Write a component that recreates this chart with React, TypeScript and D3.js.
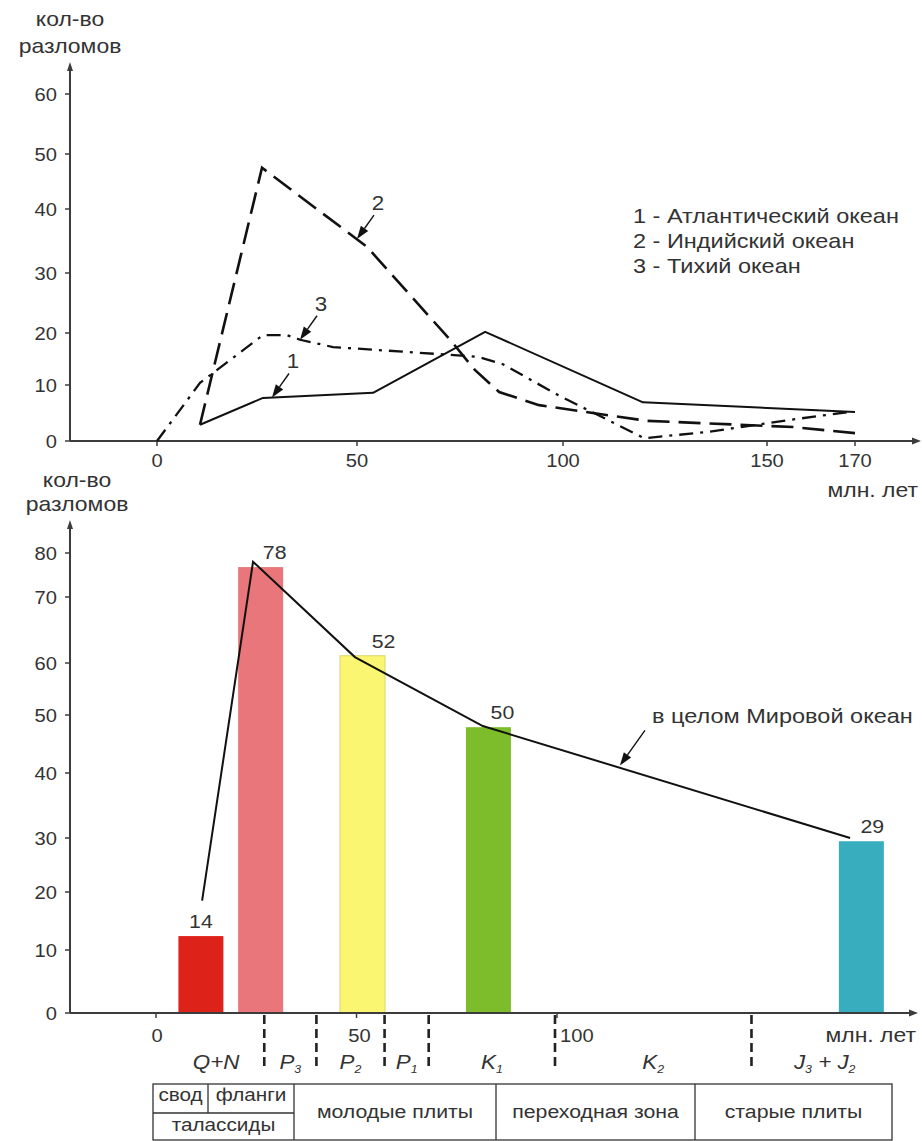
import React from 'react';
import * as d3 from 'd3';

const W = 922;
const H = 1141;

// ---------- Top chart data ----------
const topYTicks = [0, 10, 20, 30, 40, 50, 60];
const topXTicks = [0, 50, 100, 150, 170];
const legendItems = ['1 - Атлантический океан', '2 - Индийский океан', '3 - Тихий океан'];

const atlanticAge = [10.75, 26.5, 53.9, 81.1, 119.6, 170];
const atlanticCount = [2.9, 7.7, 8.6, 20.2, 6.9, 5.2];

const indianAge = [10.75, 26.25, 52.4, 72.6, 78.6, 84.5, 94.2, 120.6, 155.9, 170];
const indianCount = [2.9, 47.5, 34.1, 18.7, 12.9, 8.75, 6.4, 3.6, 2.5, 1.4];

const pacificAge = [0, 10.75, 26.5, 32.5, 35.75, 44, 72.6, 79.4, 85.4, 98.8, 119.9, 135.2, 155, 168.75];
const pacificCount = [0, 10.4, 19.6, 19.6, 18.7, 17.3, 15.8, 15.4, 14.0, 8.2, 0.5, 1.6, 3.75, 5.2];

// series number annotations: label, arrow tip (age, count)
const seriesNumLabels = ['1', '2', '3'];
const seriesNumAge = [28.75, 50, 35.75];
const seriesNumCount = [7.77, 35.3, 18.7];

// ---------- Bottom chart data ----------
const lowYTicks = [0, 10, 20, 30, 40, 50, 60, 70, 80];
const lowXTicks = [0, 50, 100];
const barAge = [11.2, 26.1, 51.5, 82.9, 175.9];
const barCount = [12.4, 76.8, 61.1, 47.9, 29.4];
const barLabels = ['14', '78', '52', '50', '29'];

const worldAge = [11.5, 24.2, 49.6, 81.5, 173.1];
const worldCount = [18.5, 78.0, 60.9, 48.1, 30.0];
const worldLabel = 'в целом Мировой океан';
const worldArrowAge = 115.7;
const worldArrowCount = 41.3;

const periodBounds = [27, 40, 57, 68, 99.5, 148.5];
const periodMain = ['Q+N', 'P', 'P', 'P', 'K', 'K', 'J'];
const periodSub = ['', '3', '2', '1', '1', '2', '3'];

const zoneTop = ['свод', 'фланги'];
const zoneBottom = 'талассиды';
const zoneMain = ['молодые плиты', 'переходная зона', 'старые плиты'];

// ---------- styling ----------
const barColors = ['#dc2219', '#e8767a', '#fbf672', '#7dbd2b', '#37adbe'];
const barStroke = ['none', 'none', '#dcd46a', 'none', 'none'];
const labelDx = [0, 14, 21, 14, 11];
const FONT = "'Liberation Sans', Arial, Helvetica, sans-serif";
const SX = 1.12;
const TXT = '#333';
const AX = '#3c3c3c';

function T(props: any) {
  const { x, y, size, anchor = 'start', italic = false, fill = TXT, children } = props;
  return (
    <text
      transform={`translate(${x},${y}) scale(${SX},1)`}
      fontSize={size}
      textAnchor={anchor}
      fontFamily={FONT}
      fontStyle={italic ? 'italic' : 'normal'}
      fill={fill}
    >
      {children}
    </text>
  );
}

function Arrow(props: any) {
  const { x1, y1, x2, y2 } = props;
  const ang = Math.atan2(y2 - y1, x2 - x1);
  const L = 13;
  const hw = 4.5;
  const bx = x2 - L * Math.cos(ang);
  const by = y2 - L * Math.sin(ang);
  const px = -Math.sin(ang) * hw;
  const py = Math.cos(ang) * hw;
  return (
    <g>
      <line x1={x1} y1={y1} x2={bx} y2={by} stroke="#111" strokeWidth={1.4} />
      <polygon points={`${x2},${y2} ${bx + px},${by + py} ${bx - px},${by - py}`} fill="#111" />
    </g>
  );
}

export default function App() {
  // top scales
  const tx = d3.scaleLinear().domain(topXTicks).range([157, 357, 563, 767, 855]);
  const ty = d3.scaleLinear().domain(topYTicks).range([441, 385, 333, 273, 209, 154, 94]);
  // bottom scales
  const lx = d3.scaleLinear().domain([0, 100]).range([156, 557]);
  const ly = d3.scaleLinear().domain(lowYTicks).range([1013, 950, 892, 838, 773, 715, 663, 597, 553]);

  const topLine = d3.line<[number, number]>().x((d) => tx(d[0])).y((d) => ty(d[1]));
  const lowLine = d3.line<[number, number]>().x((d) => lx(d[0])).y((d) => ly(d[1]));

  const zip = (a: number[], b: number[]) => a.map((v, i) => [v, b[i]] as [number, number]);

  const topAxisY = ty(0);
  const lowAxisY = ly(0);

  const periodEdges = [0, ...periodBounds, 185];

  return (
    <svg
      width={W}
      height={H}
      viewBox={`0 0 ${W} ${H}`}
      style={{ position: 'absolute', left: 0, top: 0, background: '#fff' }}
    >
      <rect x={0} y={0} width={W} height={H} fill="#fff" />

      {/* ============ TOP CHART ============ */}
      <T x={70} y={26} size={20.5} anchor="middle">кол-во</T>
      <T x={70} y={53} size={20.5} anchor="middle">разломов</T>

      {/* y axis */}
      <line x1={70} y1={topAxisY} x2={70} y2={68} stroke={AX} strokeWidth={2} />
      <polygon points="70,62 67,71 73,71" fill={AX} />
      {topYTicks.map((t) => (
        <g key={'ty' + t}>
          <line x1={65} x2={70} y1={ty(t)} y2={ty(t)} stroke={AX} strokeWidth={1.5} />
          <T x={57} y={ty(t) + 6.5} size={18} anchor="end">{t}</T>
        </g>
      ))}
      {/* x axis */}
      <line x1={70} y1={topAxisY} x2={914} y2={topAxisY} stroke={AX} strokeWidth={2} />
      <polygon points={`921,${topAxisY} 912,${topAxisY - 3.5} 912,${topAxisY + 3.5}`} fill={AX} />
      {topXTicks.map((t) => (
        <g key={'tx' + t}>
          <line x1={tx(t)} x2={tx(t)} y1={topAxisY} y2={topAxisY + 5} stroke={AX} strokeWidth={1.5} />
          <T x={tx(t)} y={467} size={18} anchor="middle">{t}</T>
        </g>
      ))}
      <T x={918} y={497} size={20.5} anchor="end">млн. лет</T>

      {/* series */}
      <path d={topLine(zip(atlanticAge, atlanticCount)) || ''} fill="none" stroke="#111" strokeWidth={2} strokeLinejoin="round" />
      <path d={topLine(zip(indianAge, indianCount)) || ''} fill="none" stroke="#111" strokeWidth={2.6} strokeDasharray="22,9" />
      <path d={topLine(zip(pacificAge, pacificCount)) || ''} fill="none" stroke="#111" strokeWidth={2.3} strokeDasharray="14,7,3,7" />

      {/* series number annotations */}
      {seriesNumLabels.map((lab, i) => {
        const px = tx(seriesNumAge[i]);
        const py = ty(seriesNumCount[i]);
        return (
          <g key={'sn' + i}>
            <Arrow x1={px + 17} y1={py - 24} x2={px} y2={py} />
            <T x={px + 21} y={py - 29} size={20} anchor="middle">{lab}</T>
          </g>
        );
      })}

      {/* legend */}
      {legendItems.map((s, i) => (
        <T key={'lg' + i} x={633} y={223 + i * 25} size={21}>{s}</T>
      ))}

      {/* ============ BOTTOM CHART ============ */}
      <T x={77} y={487} size={20.5} anchor="middle">кол-во</T>
      <T x={77} y={511} size={20.5} anchor="middle">разломов</T>

      <line x1={70} y1={lowAxisY} x2={70} y2={526} stroke={AX} strokeWidth={2} />
      <polygon points="70,520 67,529 73,529" fill={AX} />
      {lowYTicks.map((t) => (
        <g key={'ly' + t}>
          <line x1={65} x2={70} y1={ly(t)} y2={ly(t)} stroke={AX} strokeWidth={1.5} />
          <T x={57} y={ly(t) + 6.5} size={18} anchor="end">{t}</T>
        </g>
      ))}

      {/* bars */}
      {barAge.map((a, i) => (
        <rect
          key={'b' + i}
          x={lx(a) - 22.5}
          y={ly(barCount[i])}
          width={45}
          height={lowAxisY - ly(barCount[i])}
          fill={barColors[i]}
          stroke={barStroke[i]}
          strokeWidth={1}
        />
      ))}
      {barAge.map((a, i) => (
        <T key={'bl' + i} x={lx(a) + labelDx[i]} y={ly(barCount[i]) - 8} size={19} anchor="middle">
          {barLabels[i]}
        </T>
      ))}

      {/* x axis */}
      <line x1={70} y1={lowAxisY} x2={910} y2={lowAxisY} stroke={AX} strokeWidth={2} />
      <polygon points={`918,${lowAxisY} 909,${lowAxisY - 3.5} 909,${lowAxisY + 3.5}`} fill={AX} />
      {lowXTicks.map((t) => (
        <line key={'lxt' + t} x1={lx(t)} x2={lx(t)} y1={lowAxisY} y2={lowAxisY + 5} stroke={AX} strokeWidth={1.5} />
      ))}
      <T x={lx(0) + 1} y={1042} size={18} anchor="middle">0</T>
      <T x={lx(50) + 3} y={1042} size={18} anchor="middle">50</T>
      <T x={lx(100) + 3} y={1042} size={18}>100</T>
      <T x={916} y={1042} size={20.5} anchor="end">млн. лет</T>

      {/* world ocean line */}
      <path d={lowLine(zip(worldAge, worldCount)) || ''} fill="none" stroke="#111" strokeWidth={2} strokeLinejoin="miter" />
      <Arrow
        x1={lx(worldArrowAge) + 25}
        y1={ly(worldArrowCount) - 35}
        x2={lx(worldArrowAge)}
        y2={ly(worldArrowCount)}
      />
      <T x={652} y={723} size={21}>{worldLabel}</T>

      {/* period boundaries */}
      {periodBounds.map((b, i) => (
        <line
          key={'pb' + i}
          x1={lx(b)}
          x2={lx(b)}
          y1={1015}
          y2={1071}
          stroke="#222"
          strokeWidth={2.6}
          strokeDasharray="9,5"
        />
      ))}
      {periodMain.map((m, i) => {
        const cx = (lx(periodEdges[i]) + lx(periodEdges[i + 1])) / 2 + (i === 0 ? 6 : 0);
        if (m === 'J') {
          return (
            <T key={'pl' + i} x={cx} y={1069} size={20} italic anchor="middle">
              <tspan>J</tspan>
              <tspan fontSize={11} dy={4}>3</tspan>
              <tspan dy={-4}> + J</tspan>
              <tspan fontSize={11} dy={4}>2</tspan>
            </T>
          );
        }
        return (
          <T key={'pl' + i} x={cx} y={1069} size={20} italic anchor="middle">
            <tspan>{m}</tspan>
            {periodSub[i] ? (
              <tspan fontSize={11} dy={4}>
                {periodSub[i]}
              </tspan>
            ) : null}
          </T>
        );
      })}

      {/* zone table */}
      <g stroke="#333" strokeWidth={1.3} fill="none">
        <rect x={153} y={1084} width={892 - 153} height={1140 - 1084} />
        <line x1={153} x2={294} y1={1113} y2={1113} />
        <line x1={208} x2={208} y1={1084} y2={1113} />
        <line x1={294} x2={294} y1={1084} y2={1140} />
        <line x1={496} x2={496} y1={1084} y2={1140} />
        <line x1={695} x2={695} y1={1084} y2={1140} />
      </g>
      <T x={180.5} y={1101} size={18.5} anchor="middle">{zoneTop[0]}</T>
      <T x={251} y={1101} size={18.5} anchor="middle">{zoneTop[1]}</T>
      <T x={223.5} y={1131} size={18.5} anchor="middle">{zoneBottom}</T>
      <T x={395} y={1118} size={19} anchor="middle">{zoneMain[0]}</T>
      <T x={595.5} y={1118} size={19} anchor="middle">{zoneMain[1]}</T>
      <T x={793.5} y={1118} size={19} anchor="middle">{zoneMain[2]}</T>
    </svg>
  );
}
